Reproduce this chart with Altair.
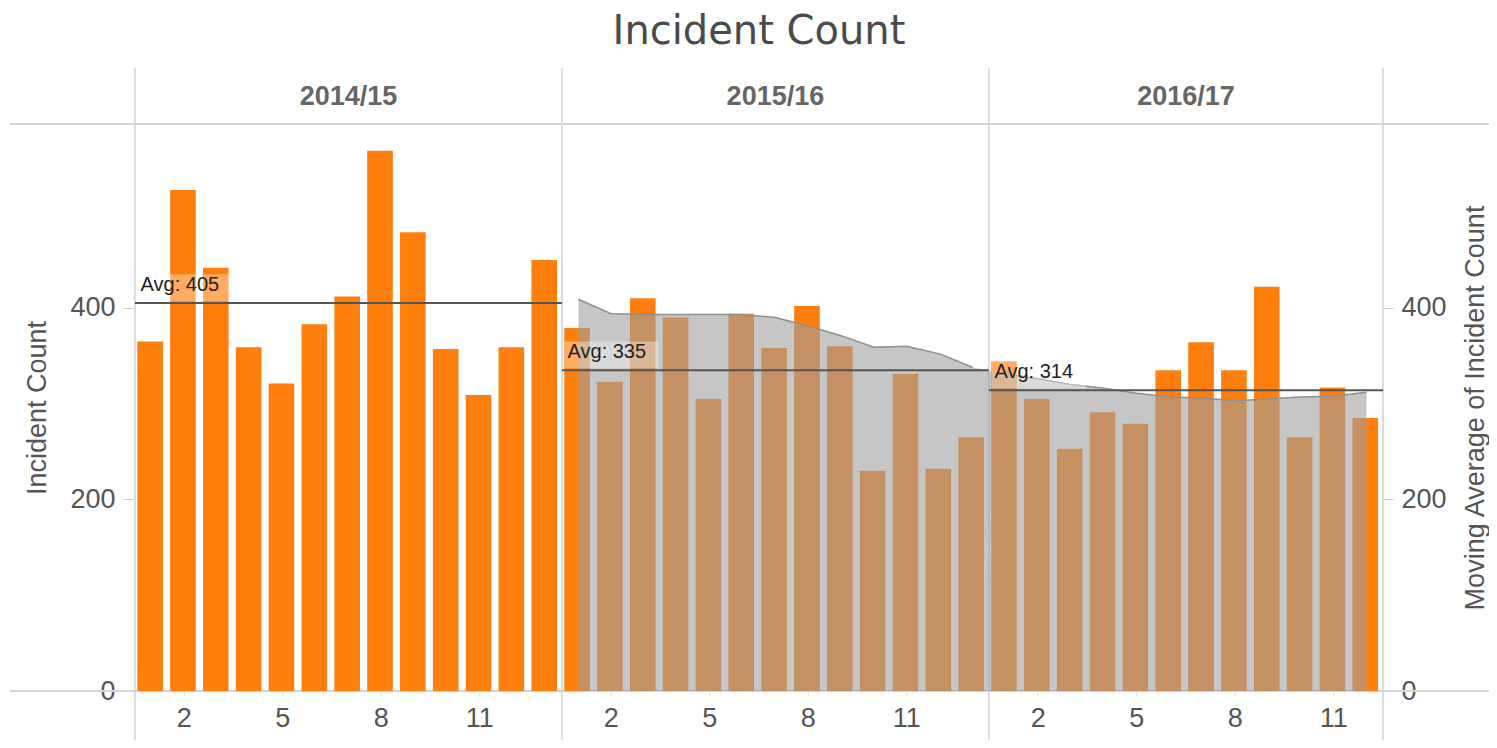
import altair as alt
import pandas as pd

# ---- data ----
years = ["2014/15", "2015/16", "2016/17"]
periods_per_year = [13, 13, 12]
incidents_2014_15 = [365, 523, 442, 359, 321, 383, 412, 564, 479, 357, 309, 359, 450]
incidents_2015_16 = [379, 323, 410, 390, 305, 394, 358, 402, 360, 230, 331, 232, 265]
incidents_2016_17 = [344, 305, 253, 291, 279, 335, 364, 335, 422, 265, 317, 285]
moving_avg_2015_16 = [409, 394, 393, 393, 393, 393, 390, 381, 371, 359, 360, 352, 338]
moving_avg_2016_17 = [331, 326, 320, 316, 311, 307, 306, 303, 305, 307, 308, 312]
year_averages = [405, 335, 314]
tick_periods = [2, 5, 8, 11]

# ---- tables ----
offsets = [sum(periods_per_year[:i]) for i in range(len(years))]
total = sum(periods_per_year)

bar_rows = []
for yr, off, vals in zip(years, offsets, [incidents_2014_15, incidents_2015_16, incidents_2016_17]):
    for k, v in enumerate(vals, start=1):
        bar_rows.append({"year": yr, "period": k, "pos": off + k - 0.5, "count": v})
bars_df = pd.DataFrame(bar_rows)

ma_rows = []
for yr, off, vals in [(years[1], offsets[1], moving_avg_2015_16), (years[2], offsets[2], moving_avg_2016_17)]:
    for k, v in enumerate(vals, start=1):
        ma_rows.append({"year": yr, "period": k, "pos": off + k - 0.5, "ma": v})
ma_df = pd.DataFrame(ma_rows)

panel_df = pd.DataFrame({
    "year": years,
    "start": offsets,
    "end": [o + n for o, n in zip(offsets, periods_per_year)],
    "avg": year_averages,
})
panel_df["mid"] = (panel_df["start"] + panel_df["end"]) / 2
panel_df["label"] = ["Avg: " + str(a) for a in year_averages]

bounds_df = pd.DataFrame({"b": offsets + [total]})

ticks_df = pd.DataFrame(
    [{"pos": off + t - 0.5, "lab": str(t)} for off in offsets for t in tick_periods]
)

W, H = 1248, 567
YMAX = 592
TXT = "#555555"
GRID = "#dcdcdc"
ORANGE = "#ff7f0e"

xs = alt.Scale(domain=[0, total], nice=False, zero=False)
ys = alt.Scale(domain=[0, YMAX], nice=False, zero=True)

separators = alt.Chart(bounds_df).mark_rule(color=GRID, strokeWidth=2).encode(
    x=alt.X("b:Q", scale=xs, axis=None),
    y=alt.value(-56), y2=alt.value(H + 57),
)

hlines = alt.Chart(pd.DataFrame({"yy": [0, H]})).mark_rule(color="#d4d4d4", strokeWidth=2).encode(
    x=alt.value(-125), x2=alt.value(W + 114),
    y=alt.Y("yy:Q", scale=alt.Scale(domain=[0, H], range=[0, H]), axis=None),
)

bars = alt.Chart(bars_df).transform_calculate(
    x0="datum.pos - 0.43", x1="datum.pos + 0.35", zero="0"
).mark_bar(color=ORANGE).encode(
    x=alt.X("x0:Q", scale=xs, axis=None),
    x2="x1:Q",
    y=alt.Y("count:Q", scale=ys, axis=alt.Axis(
        orient="left", values=[0, 200, 400], title="Incident Count", grid=False, domain=False,
        tickSize=12, tickColor="#cccccc", labelFont="Liberation Sans", labelFontSize=27,
        labelColor=TXT, labelPadding=8, titleFont="Liberation Sans", titleFontSize=27,
        titleFontWeight="normal", titleColor=TXT, titlePadding=18)),
    y2="zero:Q",
)

area = alt.Chart(ma_df).mark_area(color="#9e9e9e", opacity=0.59).encode(
    x=alt.X("pos:Q", scale=xs, axis=None),
    y=alt.Y("ma:Q", scale=ys, axis=alt.Axis(
        orient="right", values=[0, 200, 400], title="Moving Average of Incident Count",
        grid=False, domain=False, tickSize=10, tickColor="#cccccc",
        labelFont="Liberation Sans", labelFontSize=27, labelColor=TXT, labelPadding=8,
        titleFont="Liberation Sans", titleFontSize=27, titleFontWeight="normal",
        titleColor=TXT, titleAngle=-90, titleX=92, titleY=H / 2,
        titleAlign="center", titleBaseline="middle")),
    detail="year:N",
)

area_line = alt.Chart(ma_df).mark_line(color="#8f8f8f", strokeWidth=1.5).encode(
    x=alt.X("pos:Q", scale=xs, axis=None),
    y=alt.Y("ma:Q", scale=ys, axis=None),
    detail="year:N",
)

label_box = alt.Chart(panel_df).transform_calculate(
    bx0="datum.start + 0.08", bx1="datum.start + 2.95",
    by0="datum.avg + 2", by1="datum.avg + 30",
).mark_rect(color="white", opacity=0.35).encode(
    x=alt.X("bx0:Q", scale=xs, axis=None), x2="bx1:Q",
    y=alt.Y("by0:Q", scale=ys, axis=None), y2="by1:Q",
)

avg_rule = alt.Chart(panel_df).mark_rule(color="#555555", strokeWidth=2).encode(
    x=alt.X("start:Q", scale=xs, axis=None), x2="end:Q",
    y=alt.Y("avg:Q", scale=ys, axis=None),
)

avg_text = alt.Chart(panel_df).transform_calculate(
    tx="datum.start + 0.17"
).mark_text(
    align="left", baseline="bottom", dy=-8, font="Liberation Sans", fontSize=20, color="#222222"
).encode(
    x=alt.X("tx:Q", scale=xs, axis=None),
    y=alt.Y("avg:Q", scale=ys, axis=None),
    text="label:N",
)

x_ticks = alt.Chart(ticks_df).mark_rule(color=GRID, strokeWidth=1).encode(
    x=alt.X("pos:Q", scale=xs, axis=None),
    y=alt.value(H), y2=alt.value(H + 6),
)

x_labels = alt.Chart(ticks_df).mark_text(
    font="Liberation Sans", fontSize=27, color=TXT, baseline="middle"
).encode(
    x=alt.X("pos:Q", scale=xs, axis=None),
    y=alt.value(H + 28),
    text="lab:N",
)

headers = alt.Chart(panel_df).mark_text(
    font="Liberation Sans", fontSize=27, fontWeight="bold", color="#666666", baseline="middle"
).encode(
    x=alt.X("mid:Q", scale=xs, axis=None),
    y=alt.value(-27),
    text="year:N",
)

title = alt.Chart(pd.DataFrame({"t": ["Incident Count"]})).mark_text(
    font="DejaVu Sans", fontSize=40, color="#4a4a4a", baseline="middle"
).encode(
    x=alt.value(W / 2), y=alt.value(-92), text="t:N",
)

chart = alt.layer(
    separators, hlines, bars, area, area_line, label_box, avg_rule, avg_text,
    x_ticks, x_labels, headers, title
).resolve_scale(y="independent").properties(
    width=W, height=H,
    autosize=alt.AutoSizeParams(type="none"),
    padding={"left": 127, "top": 116, "right": 106, "bottom": 49},
).configure_view(stroke=None).configure(background="white")

chart.save("out.html", embed_options={"renderer": "svg", "actions": False})
